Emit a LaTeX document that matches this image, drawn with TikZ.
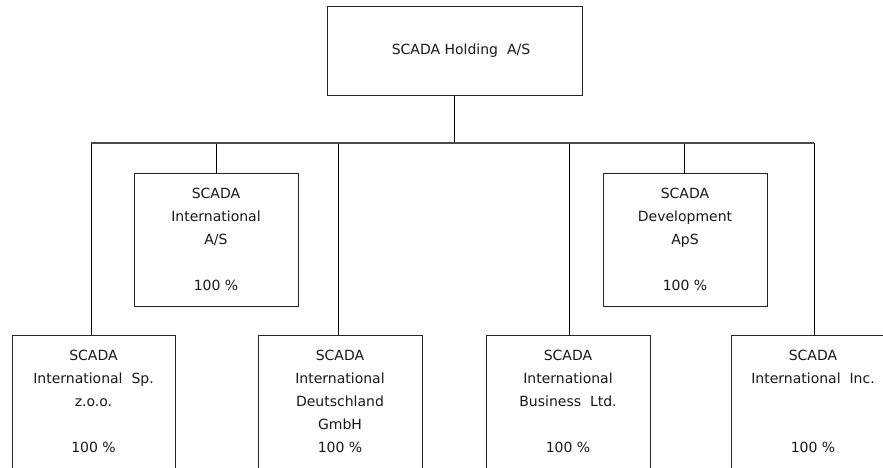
\documentclass[tikz,border=0pt]{standalone}
\usepackage{fontspec}
\setmainfont{DejaVu Sans}
\begin{document}
\begin{tikzpicture}[x=1pt,y=-1pt,
  orgbox/.style={draw=black!85,line width=1pt,inner sep=0pt,outer sep=0pt,anchor=north west},
  orgtxt/.style={align=center,inner sep=0pt,anchor=north,text=black!90,font=\fontsize{14}{23}\selectfont},
  link/.style={draw=black,line width=1pt},
  bus/.style={draw=black!70,line width=1.6pt}]
\useasboundingbox (0,0) rectangle (883,468);
\clip (0,0) rectangle (883,468);
\fill[white] (0,0) rectangle (883,468);
% boxes
\node[orgbox,minimum width=255pt,minimum height=89pt] (top) at (327,7) {};
\node[orgbox,minimum width=164pt,minimum height=133pt] (intl) at (134,173) {};
\node[orgbox,minimum width=164pt,minimum height=133pt] (dev) at (603,173) {};
\node[orgbox,minimum width=163pt,minimum height=160pt] (b1) at (12,335) {};
\node[orgbox,minimum width=164pt,minimum height=160pt] (b2) at (258,335) {};
\node[orgbox,minimum width=164pt,minimum height=160pt] (b3) at (486,335) {};
\node[orgbox,minimum width=164pt,minimum height=160pt] (b4) at (731,335) {};
% texts
\node[orgtxt,anchor=center] (top-t) at ([xshift=6.5pt,yshift=0.5pt]top.center) {SCADA Holding\ \ A/S};
\node[orgtxt] (intl-t) at ([yshift=-15pt]intl.north) {SCADA\\International\\A/S\\[23pt]100 \%};
\node[orgtxt] (dev-t) at ([yshift=-15pt]dev.north) {SCADA\\Development\\ApS\\[23pt]100 \%};
\node[orgtxt] (b1-t) at ([yshift=-15pt]b1.north) {SCADA\\International\ \ Sp.\\z.o.o.\\[23pt]100 \%};
\node[orgtxt] (b2-t) at ([yshift=-15pt]b2.north) {SCADA\\International\\Deutschland\\GmbH\\100 \%};
\node[orgtxt] (b3-t) at ([yshift=-15pt]b3.north) {SCADA\\International\\Business\ \ Ltd.\\[23pt]100 \%};
\node[orgtxt] (b4-t) at ([yshift=-15pt]b4.north) {SCADA\\International\ \ Inc.\\[46pt]100 \%};
% junctions on the bus
\coordinate (j1) at (91,143);
\coordinate (j2) at (216,143);
\coordinate (j3) at (338,143);
\coordinate (jt) at (454,143);
\coordinate (j4) at (569,143);
\coordinate (j5) at (684,143);
\coordinate (j6) at (814,143);
% connectors
\draw[link] (top.south -| jt) -- (jt);
\draw[link] (j1) -- (j1 |- b1.north);
\draw[link] (j2) -- (j2 |- intl.north);
\draw[link] (j3) -- (j3 |- b2.north);
\draw[link] (j4) -- (j4 |- b3.north);
\draw[link] (j5) -- (j5 |- dev.north);
\draw[link] (j6) -- (j6 |- b4.north);
\draw[bus] (j1) -- (j6);
\end{tikzpicture}
\end{document}
